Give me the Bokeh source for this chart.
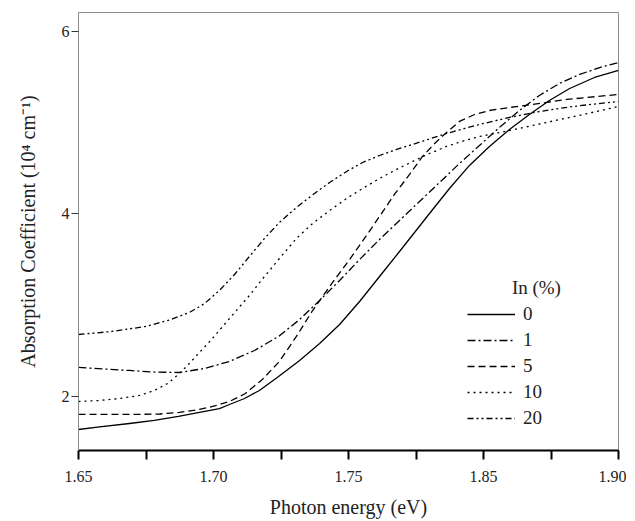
from bokeh.plotting import figure
from bokeh.models import Range1d, Legend, LegendItem, Label, FixedTicker
from bokeh.embed import file_html
from bokeh.resources import INLINE

# ---- data (photon energy in eV on the plot's linear scale, absorption in 10^4 cm^-1)
x_ticks = [1.65, 1.70, 1.75, 1.80, 1.85]
x_tick_labels = ["1.65", "1.70", "1.75", "1.85", "1.90"]
x_minor_ticks = [1.675, 1.725, 1.775, 1.825]
y_ticks = [2, 4, 6]

energy_0 = [1.6500, 1.6578, 1.6689, 1.6781, 1.6870, 1.6948, 1.7022, 1.7059, 1.7115,
            1.7170, 1.7241, 1.7319, 1.7393, 1.7467, 1.7541, 1.7615, 1.7689, 1.7800,
            1.7874, 1.7948, 1.8022, 1.8096, 1.8170, 1.8244, 1.8319, 1.8411, 1.8500]
alpha_0 = [1.638, 1.666, 1.704, 1.737, 1.781, 1.825, 1.868, 1.912, 1.978,
           2.066, 2.219, 2.395, 2.581, 2.789, 3.041, 3.315, 3.589, 4.005,
           4.279, 4.532, 4.740, 4.926, 5.090, 5.244, 5.375, 5.496, 5.573]

energy_1 = [1.6500, 1.6596, 1.6689, 1.6781, 1.6874, 1.6967, 1.7059, 1.7152, 1.7241,
            1.7319, 1.7393, 1.7467, 1.7541, 1.7615, 1.7689, 1.7763, 1.7837, 1.7911,
            1.7985, 1.8059, 1.8133, 1.8207, 1.8281, 1.8356, 1.8430, 1.8500]
alpha_1 = [2.318, 2.301, 2.285, 2.268, 2.263, 2.307, 2.384, 2.504, 2.658,
           2.844, 3.052, 3.271, 3.501, 3.721, 3.929, 4.137, 4.345, 4.553,
           4.751, 4.948, 5.134, 5.299, 5.430, 5.529, 5.605, 5.660]

energy_5 = [1.6500, 1.6689, 1.6800, 1.6874, 1.6948, 1.7004, 1.7059, 1.7115, 1.7181,
            1.7244, 1.7307, 1.7367, 1.7430, 1.7504, 1.7559, 1.7615, 1.7670, 1.7726,
            1.7774, 1.7819, 1.7863, 1.7911, 1.7967, 1.8022, 1.8096, 1.8181, 1.8307,
            1.8500]
alpha_5 = [1.803, 1.803, 1.808, 1.825, 1.858, 1.896, 1.945, 2.027, 2.186,
           2.384, 2.658, 2.942, 3.205, 3.501, 3.732, 3.973, 4.214, 4.433,
           4.630, 4.773, 4.893, 5.014, 5.090, 5.134, 5.167, 5.200, 5.255,
           5.310]

energy_10 = [1.6500, 1.6578, 1.6652, 1.6726, 1.6781, 1.6830, 1.6874, 1.6907, 1.6948,
             1.6993, 1.7056, 1.7133, 1.7189, 1.7244, 1.7307, 1.7367, 1.7430, 1.7493,
             1.7552, 1.7615, 1.7678, 1.7737, 1.7800, 1.7863, 1.7930, 1.7985, 1.8096,
             1.8207, 1.8319, 1.8411, 1.8500]
alpha_10 = [1.945, 1.956, 1.978, 2.011, 2.066, 2.142, 2.252, 2.351, 2.482,
            2.625, 2.844, 3.107, 3.315, 3.512, 3.732, 3.896, 4.038, 4.170,
            4.279, 4.389, 4.488, 4.575, 4.663, 4.740, 4.805, 4.849, 4.915,
            4.986, 5.058, 5.118, 5.178]

energy_20 = [1.6500, 1.6622, 1.6748, 1.6837, 1.6911, 1.6967, 1.7022, 1.7078, 1.7133,
             1.7189, 1.7244, 1.7307, 1.7374, 1.7430, 1.7493, 1.7552, 1.7615, 1.7678,
             1.7737, 1.7800, 1.7863, 1.7930, 1.7985, 1.8096, 1.8207, 1.8319, 1.8411,
             1.8500]
alpha_20 = [2.679, 2.712, 2.767, 2.838, 2.921, 3.019, 3.162, 3.337, 3.534,
            3.732, 3.907, 4.071, 4.225, 4.345, 4.466, 4.564, 4.641, 4.707,
            4.762, 4.822, 4.882, 4.937, 4.981, 5.058, 5.123, 5.173, 5.205,
            5.233]

series_labels = ["0", "1", "5", "10", "20"]
legend_title = "In (%)"

FONT = "Liberation Serif"
TEXT = "#222222"

p = figure(frame_width=540, frame_height=438,
           x_range=Range1d(1.65, 1.85), y_range=Range1d(1.408, 6.208),
           output_backend="svg", toolbar_location=None,
           min_border_left=78, min_border_top=12, min_border_right=8,
           min_border_bottom=70)

p.background_fill_color = "white"
p.border_fill_color = "white"
p.outline_line_color = "#8c8c8c"
p.outline_line_width = 1
p.xgrid.grid_line_color = None
p.ygrid.grid_line_color = None

# x axis
xa = p.xaxis[0]
xa.ticker = FixedTicker(ticks=x_ticks, minor_ticks=x_minor_ticks)
xa.major_label_overrides = {t: l for t, l in zip(x_ticks, x_tick_labels)}
xa.axis_line_color = "black"
xa.axis_line_width = 2
xa.major_tick_line_color = "black"
xa.major_tick_line_width = 2
xa.major_tick_in = 0
xa.major_tick_out = 9
xa.minor_tick_line_color = "black"
xa.minor_tick_line_width = 2
xa.minor_tick_in = 0
xa.minor_tick_out = 9
xa.major_label_text_font = FONT
xa.major_label_text_font_size = "16px"
xa.major_label_text_color = TEXT
xa.major_label_standoff = 11
xa.axis_label = "Photon energy (eV)"
xa.axis_label_text_font = FONT
xa.axis_label_text_font_size = "20px"
xa.axis_label_text_font_style = "normal"
xa.axis_label_text_color = TEXT
xa.axis_label_standoff = 11

# y axis
ya = p.yaxis[0]
ya.ticker = FixedTicker(ticks=y_ticks)
ya.axis_line_color = "#8c8c8c"
ya.axis_line_width = 1
ya.major_tick_line_color = "#333333"
ya.major_tick_line_width = 1
ya.major_tick_in = 0
ya.major_tick_out = 7
ya.minor_tick_line_color = None
ya.major_label_text_font = FONT
ya.major_label_text_font_size = "16px"
ya.major_label_text_color = TEXT
ya.major_label_standoff = 2
ya.axis_label = "Absorption Coefficient (10\u2074 cm\u207b\u00b9)"
ya.axis_label_text_font = FONT
ya.axis_label_text_font_size = "20px"
ya.axis_label_text_font_style = "normal"
ya.axis_label_text_color = TEXT
ya.axis_label_standoff = 20

lw = 1.3
common = dict(line_color="black", line_width=lw, line_join="round")
r0 = p.line(energy_0, alpha_0, **common)
r1 = p.line(energy_1, alpha_1, line_dash="8 3 2 3", **common)
r5 = p.line(energy_5, alpha_5, line_dash="7 4", **common)
r10 = p.line(energy_10, alpha_10, line_dash="2 4", **common)
r20 = p.line(energy_20, alpha_20, line_dash="6 3 2 3 2 3", **common)

legend = Legend(items=[LegendItem(label=l, renderers=[r])
                       for l, r in zip(series_labels, [r0, r1, r5, r10, r20])],
                location=(389, 21), orientation="vertical")
legend.padding = 0
legend.margin = 0
legend.spacing = 4
legend.glyph_width = 48
legend.glyph_height = 20
legend.label_height = 20
legend.label_standoff = 8
legend.label_text_font = FONT
legend.label_text_font_size = "19px"
legend.label_text_color = TEXT
legend.border_line_color = None
legend.background_fill_alpha = 0
p.add_layout(legend)

title = Label(x=1.8196, y=3.195, text=legend_title, text_font=FONT,
              text_font_size="19px", text_color=TEXT,
              text_align="center", text_baseline="middle")
p.add_layout(title)

open("out.html", "w").write(file_html(p, INLINE))
